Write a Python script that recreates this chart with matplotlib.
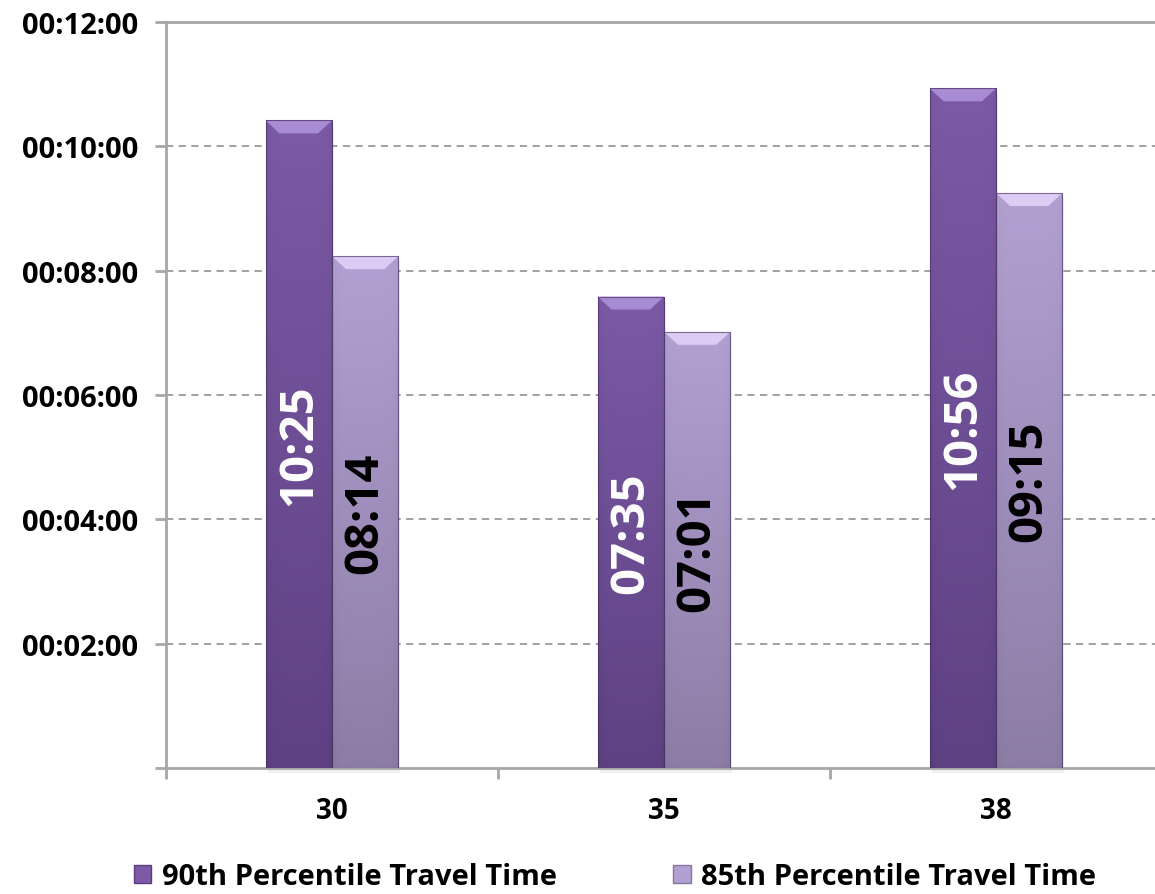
import numpy as np
import matplotlib
matplotlib.use("Agg")
import matplotlib.pyplot as plt
from matplotlib.patches import Patch, Polygon, Rectangle
from matplotlib.colors import LinearSegmentedColormap

plt.rcParams['font.family'] = ['Open Sans', 'DejaVu Sans']

categories = ["30", "35", "38"]
series_names = ["90th Percentile Travel Time", "85th Percentile Travel Time"]
p90_labels = ["10:25", "07:35", "10:56"]
p85_labels = ["08:14", "07:01", "09:15"]
y_ticks_min = [0, 2, 4, 6, 8, 10, 12]


def to_min(s):
    m, sec = s.split(":")
    return int(m) + int(sec) / 60.0


p90 = [to_min(s) for s in p90_labels]
p85 = [to_min(s) for s in p85_labels]

fig = plt.figure(figsize=(11.55, 8.95), dpi=100)
ax = fig.add_axes([166 / 1155, 1 - 769 / 895, (1162 - 166) / 1155, (769 - 23) / 895])

x = np.arange(1, len(categories) + 1)
w = 0.2

styles = [
    dict(top="#7C5AA6", bot="#593D7C", bevel="#A78BD3", txt="white"),
    dict(top="#B2A0D2", bot="#86779E", bevel="#DCCBF2", txt="black"),
]

ax.set_xlim(0.5, 3.5)
ax.set_ylim(0, 12)

px_x = 332.0
px_y = 746.0 / 12

for si, (vals, labs, off) in enumerate([(p90, p90_labels, -w / 2), (p85, p85_labels, w / 2)]):
    st = styles[si]
    bars = ax.bar(x + off, vals, width=w, color=st["top"], edgecolor="none", zorder=3)
    cmap = LinearSegmentedColormap.from_list("g%d" % si, [st["bot"], st["top"]])
    for b, v, lab in zip(bars, vals, labs):
        x0 = b.get_x()
        x1 = x0 + b.get_width()
        ax.add_patch(Rectangle((x0 + 2 / px_x, -5 / px_y), b.get_width(), v,
                               facecolor="#000000", alpha=0.06, edgecolor="none",
                               zorder=2, clip_on=False))
        grad_v = np.linspace(0, 1, 200)[:, None]
        xx = np.linspace(-1, 1, 60)[None, :]
        img = grad_v * 0.85 + 0.15 - 0.12 * (np.abs(xx) ** 6)
        im = ax.imshow(img, extent=[x0, x1, 0, v], origin="lower", aspect="auto",
                       cmap=cmap, vmin=0, vmax=1, zorder=3.5, interpolation="bilinear")
        im.set_clip_path(b)
        b.set_facecolor("none")
        bh = 13 / px_y
        bi = 14 / px_x
        ax.add_patch(Polygon([[x0, v], [x1, v], [x1 - bi, v - bh], [x0 + bi, v - bh]],
                             closed=True, facecolor=st["bevel"], edgecolor="none", zorder=4))
        ax.add_patch(Rectangle((x0, 0), b.get_width(), v, facecolor="none",
                               edgecolor="#3E2A58", linewidth=0.8, alpha=0.6, zorder=4.5))
        ax.text(b.get_x() + b.get_width() / 2, v / 2, lab, rotation=90, ha="center", va="center",
                fontsize=34, fontweight="bold", color=st["txt"], zorder=5)

for yv in y_ticks_min[1:-1]:
    ax.axhline(yv, color="#9A9A9A", linestyle=(0, (4, 3)), linewidth=1.3, zorder=1)

for sp in ["left", "bottom", "top"]:
    ax.spines[sp].set_color("#A6A6A6")
    ax.spines[sp].set_linewidth(2)
ax.spines["right"].set_visible(False)

ax.set_yticks(y_ticks_min)
ax.set_yticklabels(["" if m == 0 else "00:%02d:00" % m for m in y_ticks_min])
ax.tick_params(axis="y", length=8, width=2, color="#A6A6A6", labelsize=21, pad=12)
for t in ax.get_yticklabels():
    t.set_fontweight("bold")

ax.set_xticks([0.5, 1.5, 2.5, 3.5])
ax.set_xticklabels([])
ax.set_xticks(x, minor=True)
ax.set_xticklabels(categories, minor=True)
ax.tick_params(axis="x", which="major", length=8, width=2, color="#A6A6A6")
ax.tick_params(axis="x", which="minor", length=0, labelsize=20, pad=20)
for t in ax.get_xticklabels(minor=True):
    t.set_fontweight("bold")

handles = [Patch(facecolor=styles[0]["top"], edgecolor=styles[0]["bot"]),
           Patch(facecolor=styles[1]["top"], edgecolor=styles[1]["bot"])]
fig.legend(handles, series_names, loc="center", bbox_to_anchor=(615 / 1155, 1 - 878 / 895), ncol=2,
           frameon=False, prop=dict(size=21, weight="bold"), handlelength=0.6, handleheight=0.6,
           handletextpad=0.35, columnspacing=4.0)

fig.savefig("out.png", dpi=100)
